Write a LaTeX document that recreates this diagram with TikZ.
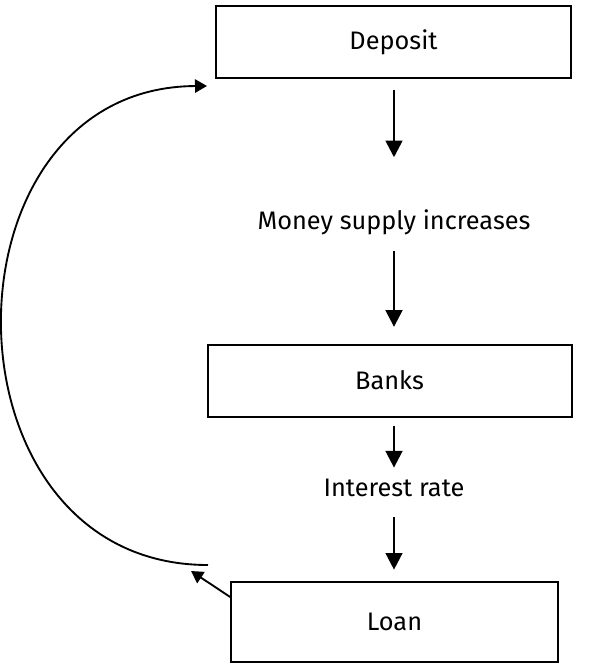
\documentclass[tikz,border=0pt]{standalone}
\usepackage{fontspec}
\setmainfont{Fira Sans}
\usetikzlibrary{arrows.meta,positioning,calc}

\begin{document}
\begin{tikzpicture}[
    x=0.75pt, y=-0.75pt,
    every node/.style={font=\fontsize{19}{22}\selectfont},
    box/.style={draw, line width=1.5pt, align=center, minimum height=54pt},
    label/.style={inner sep=0pt, text height=12.7pt, text depth=4pt},
    flow/.style={-{Triangle[width=12.5pt, length=12.5pt]}, line width=1.9pt},
    cycle/.style={-{Triangle[width=10pt, length=9pt]}, line width=1.4pt}
]
\useasboundingbox (0,0) rectangle (600,665);
\node[box, minimum width=266pt] (deposit) at (393.5,42) {Deposit};
\node[label] (money) at (394,224) {Money supply increases};
\node[box, minimum width=273pt] (banks) at (389.5,380.5) {Banks};
\node[label] (rate) at (394,491) {Interest rate};
\node[box, minimum width=245pt, minimum height=60pt] (loan) at (394.5,622) {Loan};
\coordinate (cstart) at (208,565);
\coordinate (cend) at (207,86);
\draw[flow, shorten <=8.5pt, shorten >=41.5pt] (money |- deposit.south) -- (money.north);
\draw[flow, shorten <=12pt, shorten >=12.5pt] (money.south) -- (money |- banks.north);
\draw[flow, shorten <=6.5pt, shorten >=9pt] (rate |- banks.south) -- (rate.north);
\draw[flow, shorten <=11pt, shorten >=8.5pt] (rate.south) -- (rate |- loan.north);
\draw[cycle] ($(loan.north west)+(0,16)$) -- (191,571);
\draw[cycle] (cstart) .. controls (-66,565) and (-66,87) .. (cend);
\end{tikzpicture}
\end{document}
